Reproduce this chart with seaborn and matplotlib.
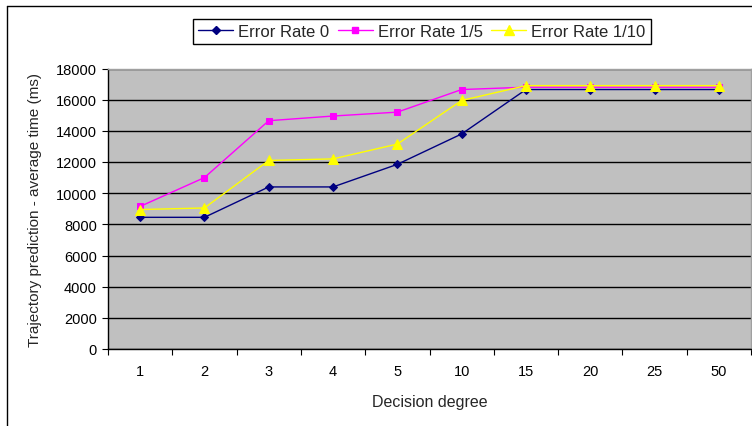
import matplotlib
matplotlib.use("Agg")
import matplotlib.pyplot as plt
from matplotlib.lines import Line2D
import seaborn as sns
import pandas as pd
import numpy as np

categories = ["1", "2", "3", "4", "5", "10", "15", "20", "25", "50"]
err0 = [8450, 8450, 10400, 10400, 11850, 13800, 16650, 16650, 16650, 16650]
err15 = [9150, 11000, 14650, 14950, 15200, 16650, 16800, 16800, 16800, 16800]
err110 = [8950, 9050, 12100, 12200, 13150, 15950, 16900, 16900, 16900, 16900]
series_names = ["Error Rate 0", "Error Rate 1/5", "Error Rate 1/10"]
y_ticks = list(range(0, 18001, 2000))

sns.set_theme(style="white")
plt.rcParams['font.family'] = ['Liberation Sans', 'DejaVu Sans']

fig = plt.figure(figsize=(7.52, 4.27), dpi=100)
ax = fig.add_axes([108/752, 1-350/427, (751-108)/752, (350-69.5)/427])
ax.set_facecolor("#C0C0C0")

pos = np.arange(len(categories))
styles = [
    (err0, "#000080", "D", 4.5),
    (err15, "#FF00FF", "s", 4.5),
    (err110, "#FFFF00", "^", 6.5),
]
for (vals, col, mk, ms), name in zip(styles, series_names):
    df = pd.DataFrame({"x": pos, "y": vals})
    sns.lineplot(data=df, x="x", y="y", ax=ax, color=col, marker=mk,
                 markersize=ms, markeredgecolor=col, linewidth=1,
                 label=name, legend=False)

tick_fs = 10.5
ax.set_xlim(-0.5, len(categories) - 0.5)
ax.set_ylim(0, 18000)
ax.set_yticks(y_ticks)
ax.set_yticklabels([str(v) for v in y_ticks], fontsize=tick_fs)
ax.set_xticks(pos)
ax.set_xticklabels(categories, fontsize=tick_fs)
ax.set_xticks(np.arange(-0.5, len(categories), 1.0), minor=True)
ax.tick_params(axis="x", which="major", length=0, pad=11, colors="black")
ax.tick_params(axis="x", which="minor", length=4, width=0.8, direction="out", bottom=True, color="black")
ax.tick_params(axis="y", which="major", length=4, width=0.8, direction="out", left=True, pad=4, colors="black")
ax.yaxis.grid(True, color="black", linewidth=1)
ax.xaxis.grid(False)
ax.set_axisbelow(True)
for s in ["left", "bottom"]:
    ax.spines[s].set_color("black")
    ax.spines[s].set_linewidth(1)
for s in ["top", "right"]:
    ax.spines[s].set_color("#A0A0A0")
    ax.spines[s].set_linewidth(1)

ax.set_xlabel("Decision degree", fontsize=11.5, labelpad=11)
ax.set_ylabel("Trajectory prediction - average time (ms)", fontsize=11, labelpad=10)

handles = [Line2D([0], [0], color=c, marker=m, markersize=ms, markeredgecolor=c, linewidth=1)
           for (_, c, m, ms) in styles]
leg = fig.legend(handles, series_names, loc="center", bbox_to_anchor=(422/752, 1-32.7/427),
                 ncol=3, fontsize=12, frameon=True, fancybox=False, framealpha=1,
                 edgecolor="black", borderpad=0.3, handlelength=2.1, columnspacing=0.5,
                 handletextpad=0.3, borderaxespad=0)
leg.get_frame().set_linewidth(1)

fig.add_artist(Line2D([7/752, 7/752], [0, 1-7/427], color="black", linewidth=1, transform=fig.transFigure))
fig.add_artist(Line2D([7/752, 1], [1-7/427, 1-7/427], color="black", linewidth=1, transform=fig.transFigure))

fig.savefig("out.png", dpi=100)
